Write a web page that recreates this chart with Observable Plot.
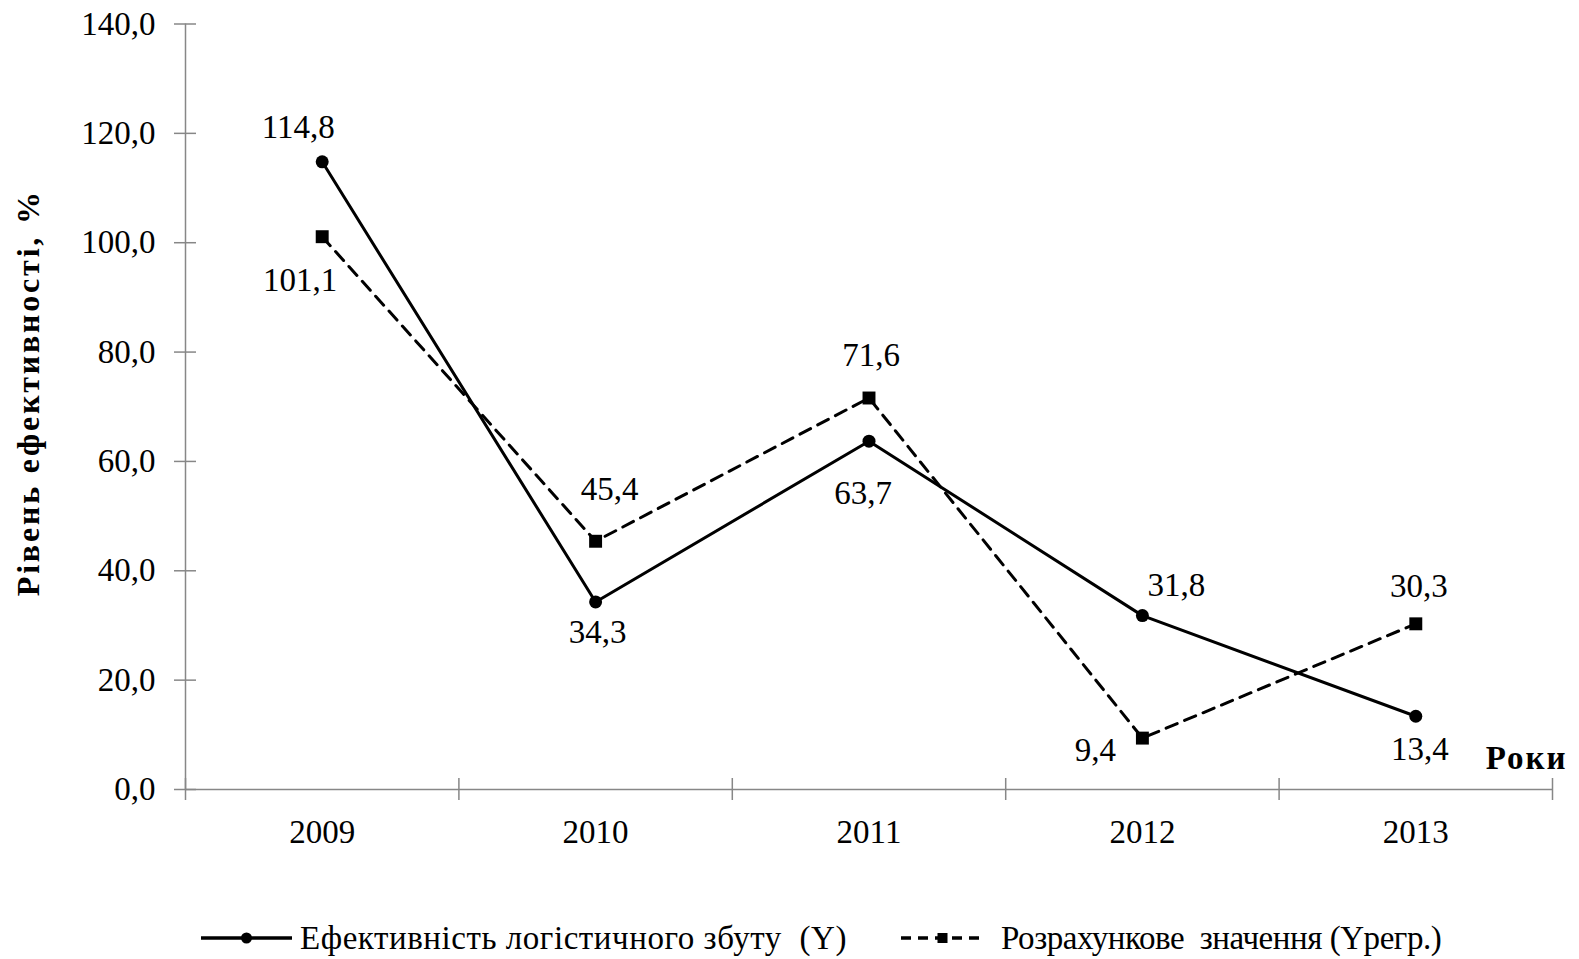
<!DOCTYPE html>
<html>
<head>
<meta charset="utf-8">
<script src="https://cdn.jsdelivr.net/npm/d3@7"></script>
<script src="https://cdn.jsdelivr.net/npm/@observablehq/plot@0.6"></script>
<style>
  html, body { margin: 0; padding: 0; background: #fff; }
  #wrap { position: relative; width: 1579px; height: 959px; overflow: hidden; font-family: "Liberation Serif", "Times New Roman", serif; }
  #chart svg { display: block; }
  .leg-text { position: absolute; font-size: 33px; line-height: 32px; color: #000; white-space: pre; }
</style>
</head>
<body>
<div id="wrap">
  <div id="chart"></div>
  <div id="legend"></div>
</div>
<script>
// ---- data ----
const years = [2009, 2010, 2011, 2012, 2013];
const seriesY = [114.8, 34.3, 63.7, 31.8, 13.4];          // Ефективність логістичного збуту (Y)
const seriesYreg = [101.1, 45.4, 71.6, 9.4, 30.3];        // Розрахункове значення (Yрегр.)
const yTicks = [0, 20, 40, 60, 80, 100, 120, 140];
const seriesNames = ["Ефективність логістичного збуту  (Y)", "Розрахункове  значення (Yрегр.)"];
const yTitle = "Рівень ефективності, %";
const xTitle = "Роки";
// label placement names per point
const placeY = ["upLeft", "down", "downFar", "upRight", "down2"];
const placeYreg = ["downLeft", "upRightFar", "upHigh", "left", "up"];

// ---- layout / style ----
const W = 1579, H = 880;
const axisY0 = 789;
const labelOffsets = {
  upLeft: [-24, -34],
  down: [2, 30],
  down2: [4, 33],
  downFar: [-6, 52],
  upRight: [34, -30],
  downLeft: [-22, 44],
  upRightFar: [14, -52],
  upHigh: [2, -43],
  up: [3, -37],
  left: [-47, 12]
};
const fmt = v => v.toFixed(1).replace(".", ",");
const axisColor = "#878787";
const x0 = years[0] - 0.5, x1 = years[years.length - 1] + 0.5;
const bounds = years.map(y => y - 0.5).concat([x1]);

const rowsY = years.map((year, i) => ({year, value: seriesY[i], place: placeY[i]}));
const rowsR = years.map((year, i) => ({year, value: seriesYreg[i], place: placeYreg[i]}));
const allRows = rowsY.concat(rowsR);

const labelMarks = Object.entries(labelOffsets).map(([k, [dx, dy]]) =>
  Plot.text(allRows.filter(d => d.place === k), {
    x: "year", y: "value", text: d => fmt(d.value), dx, dy,
    lineAnchor: "middle", textAnchor: "middle", fontSize: 33, fill: "#000"
  })
);

const chart = Plot.plot({
  width: W,
  height: H,
  marginLeft: 185,
  marginRight: 27,
  marginTop: 23.5,
  marginBottom: H - axisY0,
  x: {type: "linear", domain: [x0, x1], axis: null},
  y: {domain: [0, 140], axis: null},
  style: {fontFamily: "'Liberation Serif', 'Times New Roman', serif", fontSize: "33px", color: "#000", background: "#fff", overflow: "visible"},
  marks: [
    // axes
    Plot.ruleX([x0], {y1: 0, y2: 140, stroke: axisColor, strokeWidth: 1.5}),
    Plot.ruleY([0], {x1: x0, x2: x1, stroke: axisColor, strokeWidth: 1.5}),
    Plot.ruleY(yTicks, {y: d => d, x1: x0, x2: x0, insetLeft: -11, insetRight: -11, stroke: axisColor, strokeWidth: 1.5}),
    Plot.ruleX(bounds, {x: d => d, y1: 0, y2: 0, insetTop: -11, insetBottom: -11, stroke: axisColor, strokeWidth: 1.5}),
    Plot.text(yTicks, {y: d => d, frameAnchor: "left", dx: -30, text: d => fmt(d), textAnchor: "end", lineAnchor: "middle", fontSize: 33}),
    Plot.text(years, {x: d => d, frameAnchor: "bottom", dy: 43, text: d => String(d), lineAnchor: "middle", fontSize: 33}),
    Plot.text([xTitle], {frameAnchor: "bottom-right", dx: 15, dy: -31, textAnchor: "end", lineAnchor: "middle", fontSize: 33, fontWeight: "bold"}),
    Plot.text([yTitle], {frameAnchor: "left", dx: -157, dy: -14, rotate: -90, textAnchor: "middle", lineAnchor: "middle", fontSize: 32, fontWeight: "bold"}),
    // series
    Plot.line(rowsY, {x: "year", y: "value", stroke: "#000", strokeWidth: 3}),
    Plot.line(rowsR, {x: "year", y: "value", stroke: "#000", strokeWidth: 3, strokeDasharray: "12,8"}),
    Plot.dot(rowsY, {x: "year", y: "value", r: 6.5, fill: "#000", stroke: "none"}),
    Plot.dot(rowsR, {x: "year", y: "value", symbol: "square", r: 7.3, fill: "#000", stroke: "none"}),
    ...labelMarks
  ]
});
document.getElementById("chart").appendChild(chart);
// letter spacing for the bold titles, as in the reference
chart.querySelectorAll("text").forEach(t => {
  if (t.textContent === yTitle) t.style.letterSpacing = "2.8px";
  if (t.textContent === xTitle) t.style.letterSpacing = "2px";
});

// ---- legend (HTML below the SVG) ----
const legend = document.getElementById("legend");
function addSwatch(left, width, dashed, square) {
  const ns = "http://www.w3.org/2000/svg";
  const s = document.createElementNS(ns, "svg");
  s.setAttribute("width", width);
  s.setAttribute("height", 20);
  s.style.position = "absolute";
  s.style.left = left + "px";
  s.style.top = "928px";
  const ln = document.createElementNS(ns, "line");
  ln.setAttribute("x1", 0); ln.setAttribute("x2", width);
  ln.setAttribute("y1", 10); ln.setAttribute("y2", 10);
  ln.setAttribute("stroke", "#000"); ln.setAttribute("stroke-width", 3.5);
  if (dashed) ln.setAttribute("stroke-dasharray", "10,7");
  s.appendChild(ln);
  if (square) {
    const r = document.createElementNS(ns, "rect");
    r.setAttribute("x", width / 2 - 5); r.setAttribute("y", 5);
    r.setAttribute("width", 10); r.setAttribute("height", 10);
    r.setAttribute("fill", "#000");
    s.appendChild(r);
  } else {
    const c = document.createElementNS(ns, "circle");
    c.setAttribute("cx", width / 2); c.setAttribute("cy", 10); c.setAttribute("r", 5.5);
    c.setAttribute("fill", "#000");
    s.appendChild(c);
  }
  legend.appendChild(s);
}
function addText(left, txt, spacing) {
  const d = document.createElement("div");
  d.className = "leg-text";
  d.style.left = left + "px";
  d.style.top = "922px";
  d.style.letterSpacing = spacing + "px";
  d.textContent = txt;
  legend.appendChild(d);
}
addSwatch(201, 91, false, false);
addText(300, seriesNames[0], 0.55);
addSwatch(901, 83, true, true);
addText(1001, seriesNames[1], -0.45);
</script>
</body>
</html>
